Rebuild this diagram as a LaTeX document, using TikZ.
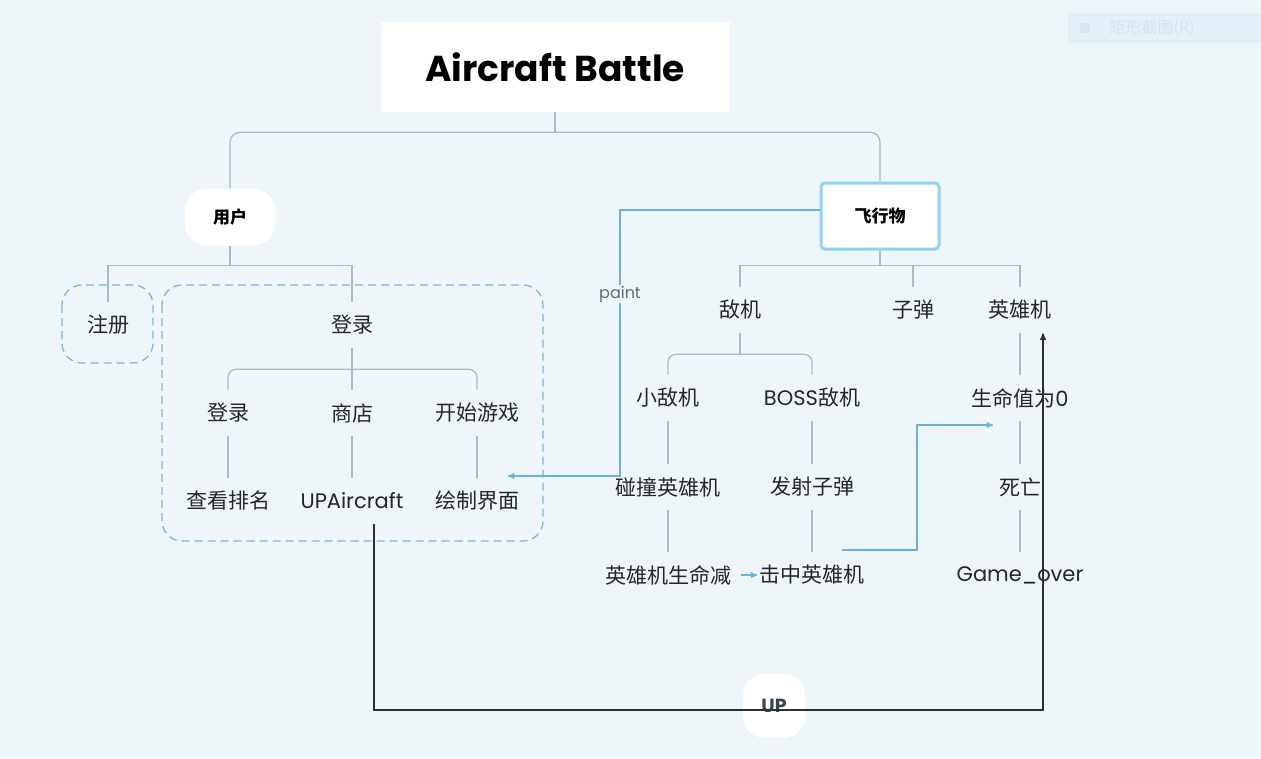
\documentclass[tikz,border=0pt]{standalone}
\usepackage{fontspec}
\setmainfont{Noto Sans CJK SC}
\newfontfamily\lat{Poppins}
\usetikzlibrary{arrows,calc,positioning}

\definecolor{bgc}{HTML}{EEF6FA}
\definecolor{connc}{HTML}{A8BBC8}
\definecolor{dashc}{HTML}{7DB6D8}
\definecolor{flyc}{HTML}{8DD5F0}
\definecolor{linkc}{HTML}{6BB2DA}
\definecolor{upc}{HTML}{2D2F33}
\definecolor{tagc}{HTML}{5B6B7F}
\definecolor{snipc}{HTML}{E4F0F7}
\definecolor{snipi}{HTML}{D5E6F0}
\definecolor{snipt}{HTML}{D3E3EC}
\definecolor{uptc}{HTML}{3A4556}

\begin{document}
\begin{tikzpicture}[x=1pt, y=-1pt, >=stealth', semithick,
    lbl/.style={text=black!85, font=\fontsize{21}{25}\selectfont, minimum height=46, inner xsep=2pt, inner ysep=0pt},
    blob/.style={fill=white, rounded corners=22, font=\fontsize{17}{20}\selectfont\bfseries, text=black},
    conn/.style={draw=connc, line width=1.3pt},
    dbox/.style={draw=dashc, line width=1.3pt, dash pattern=on 8pt off 5pt, rounded corners=20},
    link/.style={draw=linkc, line width=1.3pt, ->},
    uparrow/.style={draw=upc, line width=1.4pt, ->}]
    \fill[bgc] (0,0) rectangle (1261,758);
    \useasboundingbox (0,0) rectangle (1261,758);

    \fill[snipc] (1068,13) rectangle (1261,43);
    \fill[snipi] (1080,23) rectangle (1090,33);
    \node[text=snipt, font=\fontsize{16}{18}\selectfont, anchor=west] (snip) at (1106,28) {矩形截图(R)};

    \node[fill=white, minimum width=349, minimum height=90, font=\lat\bfseries\fontsize{36}{42}\selectfont] (title) at (555,67) {Aircraft Battle};
    \node[blob, minimum width=90, minimum height=57]   (user)   at (230,217) {用户};
    \node[blob, draw=flyc, line width=3pt, rounded corners=4, minimum width=118, minimum height=66] (fly) at (880,216) {飞行物};

    \node[lbl] (reg)     at (108,325) {注册};
    \node[lbl] (login)   at (352,325) {登录};
    \node[lbl] (login2)  at (228,413) {登录};
    \node[lbl] (shop)    at (352,413) {商店};
    \node[lbl] (start)   at (477,413) {开始游戏};
    \node[lbl] (rank)    at (228,501) {查看排名};
    \node[lbl] (upa)     at (352,501) {\lat UPAircraft};
    \node[lbl] (paintui) at (477,501) {绘制界面};

    \node[lbl] (enemy)  at (740,310)  {敌机};
    \node[lbl] (bullet) at (913,310)  {子弹};
    \node[lbl] (hero)   at (1020,310) {英雄机};
    \node[lbl] (small)  at (668,398)  {小敌机};
    \node[lbl] (boss)   at (812,398)  {{\lat BOSS}敌机};
    \node[lbl] (crash)  at (668,487)  {碰撞英雄机};
    \node[lbl] (shoot)  at (812,487)  {发射子弹};
    \node[lbl] (dec)    at (668,575)  {英雄机生命减};
    \node[lbl] (hit)    at (812,575)  {击中英雄机};
    \node[lbl] (zero)   at (1020,398) {生命值为{\lat 0}};
    \node[lbl] (dead)   at (1020,487) {死亡};
    \node[lbl] (over)   at (1020,575) {\lat Game\_over};

    \draw[dbox] (62,285) rectangle (153,363);
    \draw[dbox] (162,285) rectangle (543,541);

    \draw[conn] (title.south) -- ++(0,20) coordinate (tb);
    \draw[conn, rounded corners=10] (tb) -| (user.north) (tb) -| (fly.north);
    \draw[conn] (user.south) -- ++(0,20) coordinate (ub);
    \draw[conn] (ub) -| (reg.north) (ub) -| (login.north);
    \draw[conn] (login.south) -- (shop.north);
    \draw[conn] (login.south) -- ++(0,21) coordinate (lb);
    \draw[conn, rounded corners=8] (lb) -| (login2.north) (lb) -| (start.north);
    \draw[conn] (login2) -- (rank) (shop) -- (upa) (start) -- (paintui);

    \draw[conn] (fly.south) -- ++(0,15) coordinate (fb);
    \draw[conn] (fb) -| (enemy.north) (fb) -| (bullet.north) (fb) -| (hero.north);
    \draw[conn] (enemy.south) -- ++(0,21) coordinate (eb);
    \draw[conn, rounded corners=8] (eb) -| (small.north) (eb) -| (boss.north);
    \draw[conn] (small) -- (crash) (crash) -- (dec) (boss) -- (shoot) (shoot) -- (hit);
    \draw[conn] (hero) -- (zero) (zero) -- (dead) (dead) -- (over);

    \coordinate (pbend)    at (620,476);
    \coordinate (paintend) at (508,476);
    \coordinate (hitout)   at (842,550);
    \coordinate (lifein)   at (993,425);
    \coordinate (upturn)   at (1043,710);

    \draw[link] ([yshift=6pt]fly.west) -| (pbend) -- (paintend);
    \node[fill=bgc, text=tagc, font=\lat\fontsize{16}{19}\selectfont, inner sep=1pt] (paint) at (620,294) {paint};
    \draw[link] (hitout) -- ++(75,0) |- (lifein);
    \draw[link] ([xshift=8pt]dec.east) -- (hit.west);

    \node[blob, minimum width=62, minimum height=64, text=uptc, font=\lat\bfseries\fontsize{19}{22}\selectfont] (up) at (774,706) {UP};
    \draw[uparrow] ([xshift=22pt]upa.south) |- (upturn) -- ([xshift=23pt]hero.south);
\end{tikzpicture}
\end{document}
